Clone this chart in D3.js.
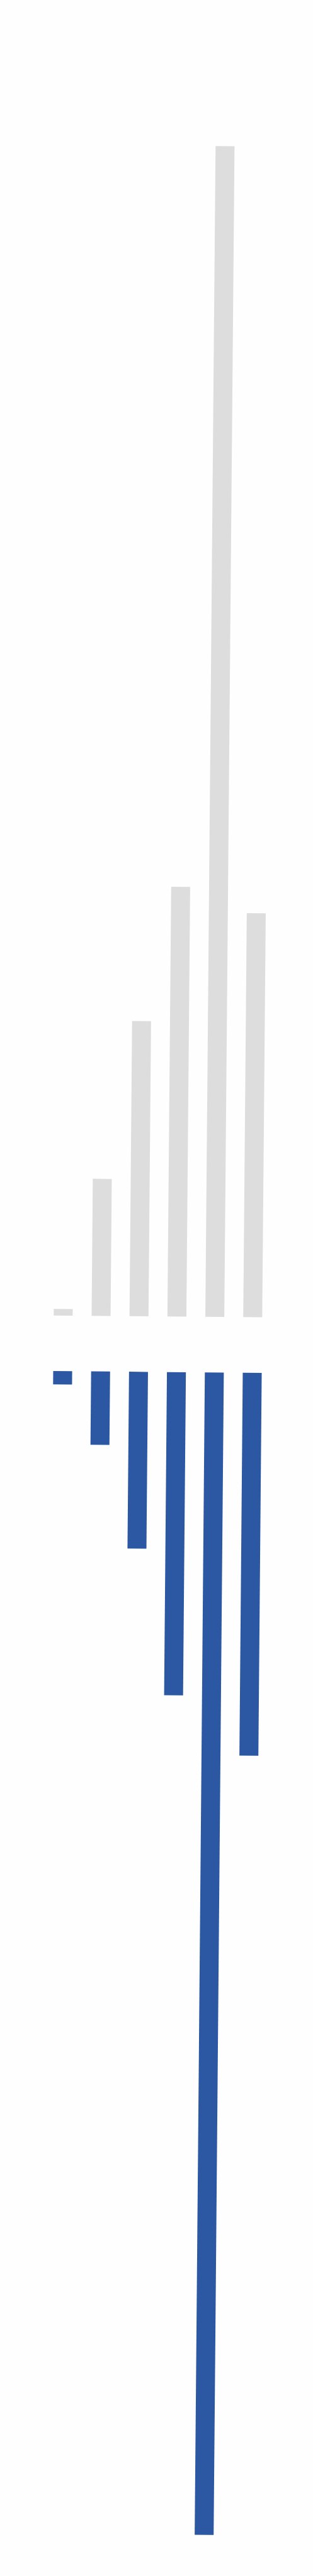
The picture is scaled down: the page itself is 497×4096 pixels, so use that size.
<!DOCTYPE html>
<html>
<head>
<meta charset="utf-8">
<script src="https://cdn.jsdelivr.net/npm/d3@7"></script>
<style>
html,body{margin:0;padding:0;background:#fefefe;overflow:hidden;}
svg{display:block;}
</style>
</head>
<body>
<svg id="chart"></svg>
<script>
// ---- data ----
const categories = ["1", "2", "3", "4", "5", "6"];
const upperValues = [0.56, 11.7, 25.2, 36.7, 100, 34.5];   // grey bars (upwards)
const lowerValues = [1.14, 6.27, 15.1, 27.6, 99.3, 32.7];  // blue bars (downwards)
const valueDomain = [0, 100];

// ---- layout (reference pixel space, scaled to window) ----
const REF_W = 947, REF_H = 7809;
const W = 497, H = 4096;
const kx = W / REF_W, ky = H / REF_H;

const svg = d3.select("#chart").attr("width", W).attr("height", H);
const root = svg.append("g")
  .attr("transform", `scale(${kx}, ${ky}) rotate(0.5, 473.5, 3904.5)`);

const x = d3.scaleBand().domain(categories).range([105.85, 851.4]).padding(0.5);
const yUp = d3.scaleLinear().domain(valueDomain).range([3990.4, 441.3]);
const yDown = d3.scaleLinear().domain(valueDomain).range([4159, 4159 + 3549]);

root.append("g").selectAll("rect")
  .data(categories.map((c, i) => ({c, v: upperValues[i]})))
  .join("rect")
  .attr("x", d => x(d.c))
  .attr("width", x.bandwidth())
  .attr("y", d => yUp(d.v))
  .attr("height", d => yUp(0) - yUp(d.v))
  .attr("fill", "#dddddd");

root.append("g").selectAll("rect")
  .data(categories.map((c, i) => ({c, v: lowerValues[i]})))
  .join("rect")
  .attr("x", d => x(d.c))
  .attr("width", x.bandwidth())
  .attr("y", yDown(0))
  .attr("height", d => yDown(d.v) - yDown(0))
  .attr("fill", "#2c57a2");
</script>
</body>
</html>
